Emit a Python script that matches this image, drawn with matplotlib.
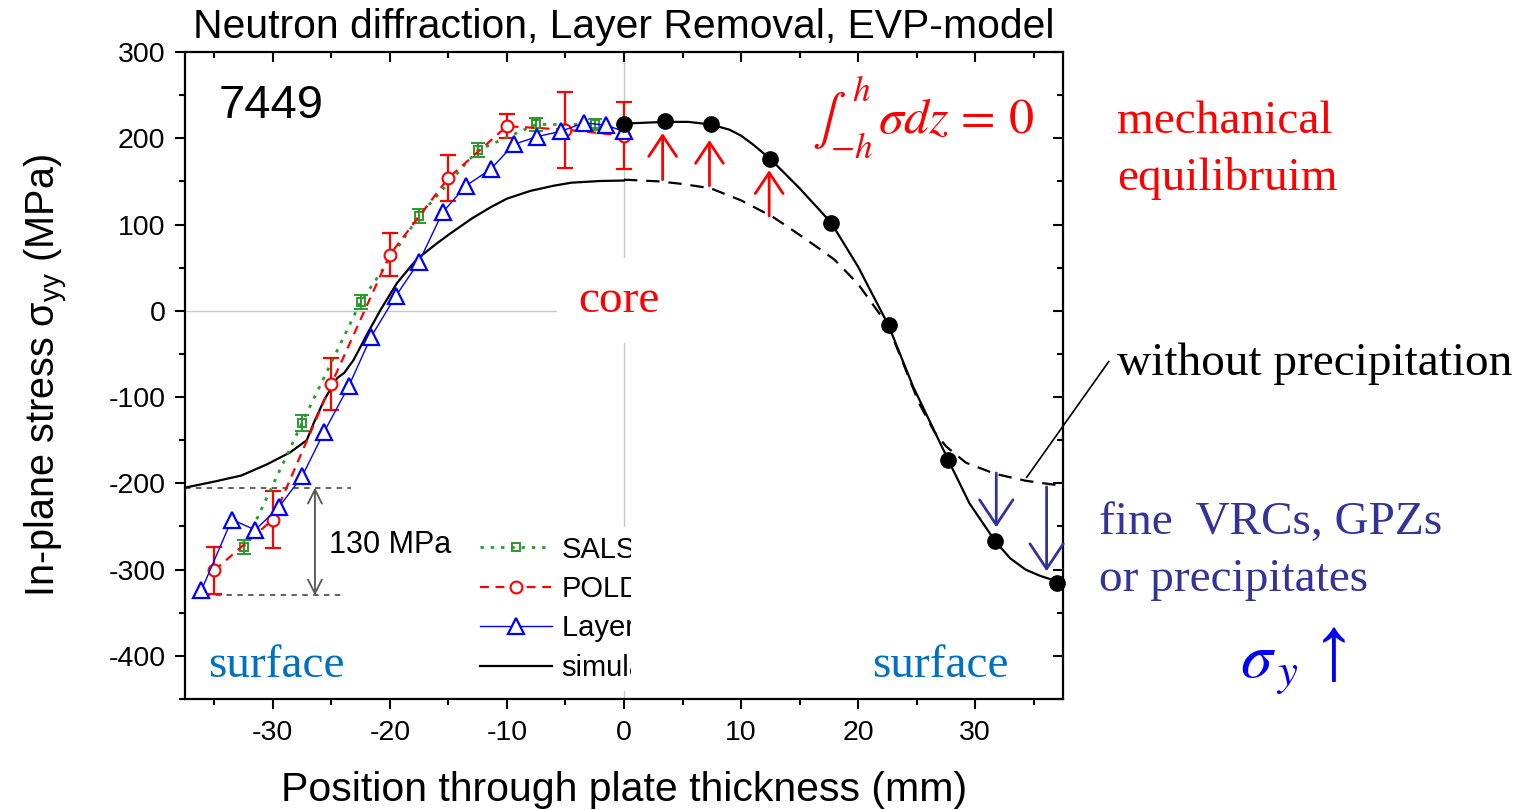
import matplotlib
matplotlib.use('Agg')
import matplotlib.pyplot as plt
from matplotlib.patches import Rectangle
from matplotlib.ticker import MultipleLocator

plt.rcParams['font.family'] = ['Liberation Sans', 'DejaVu Sans']
plt.rcParams['axes.unicode_minus'] = False

# ---------------- data ----------------
salsa_x = [-32.5, -27.5, -22.5, -17.5, -12.5, -7.5, -2.5]
salsa_y = [-274, -130, 10, 110, 186, 216, 216]
salsa_err = [8, 9, 8, 8, 8, 7, 6]

poldi_x = [-35, -30, -25, -20, -15, -10, -5, 0]
poldi_y = [-301, -242, -85, 65, 154, 214, 210, 203]
poldi_err = [27, 33, 30, 25, 27, 14, 44, 39]

layer_x = [-36.1, -33.5, -31.5, -29.5, -27.5, -25.6, -23.5, -21.6, -19.5, -17.5,
           -15.5, -13.5, -11.4, -9.4, -7.4, -5.4, -3.4, -1.5, 0]
layer_y = [-324, -242, -254, -228, -192, -140, -87, -30, 17, 57,
           114, 145, 164, 193, 202, 208, 218, 215, 208]

# EVP simulation, measured side (left half)
sim_left_x = [-37.5, -35, -32.7, -30.5, -28.5, -27.1, -26.5, -25.6, -24.5, -23.9,
              -23.1, -21.9, -20.8, -19.4, -18, -17.4, -16, -14.9, -13, -11.4,
              -10, -8, -6, -4.5, -2, 0]
sim_left_y = [-205, -198, -191, -178, -164, -150, -130, -103, -78, -72,
              -57, -26, 1, 32, 55, 63, 78, 89, 107, 120,
              130, 139, 145, 148.5, 150.5, 151]

# simulation without precipitation (right half, dashed)
noprec_x = [0, 3, 5, 7.4, 10, 12.7, 15, 17, 18, 20, 22.5, 23.5, 25.2, 26.5, 27.5,
            29.2, 31.7, 34.3, 37.5]
noprec_y = [152, 150, 147, 142, 128, 109, 88, 69, 59, 31, -16, -49, -107, -140, -157,
            -176, -189, -197, -203]

# simulation with precipitation (right half, solid) and its points
prec_x = [0, 3.5, 5.5, 7.4, 9, 10, 11, 12.5, 15, 17.7, 20, 22.6, 24.7, 27.7,
          29.5, 31.7, 33, 34.3, 35.5, 37.5]
prec_y = [217, 219, 219, 216, 210, 203, 193, 176, 142, 102, 51, -17, -88, -173,
          -223, -267, -287, -300, -307, -316]
dots_x = [0, 3.5, 7.4, 12.5, 17.7, 22.6, 27.7, 31.7, 37.0]
dots_y = [217, 220, 217, 176, 102, -17, -173, -267, -315]

# annotation arrows
up_x = [3.3, 7.3, 12.4]
up_tail = [152, 145, 110]
up_head = [206, 198, 163]
down_x = [31.8, 36.1]
down_tail = [-188, -204]
down_head = [-251, -302]

levels_130 = [-205, -330]
pointer_x = [34.4, 41.4]
pointer_y = [-193, -59]

legend_labels = ['SALSA', 'POLDI', 'Layer Removal', 'simulation']

# ---------------- figure ----------------
W, H = 1526, 810
fig = plt.figure(figsize=(W / 100, H / 100), dpi=100)
rect = [185 / W, 1 - 699 / H, 878 / W, 647 / H]
ax = fig.add_axes(rect)
ax.set_xlim(-37.5, 37.5)
ax.set_ylim(-450, 300)

ax.xaxis.set_major_locator(MultipleLocator(10))
ax.xaxis.set_minor_locator(MultipleLocator(5))
ax.yaxis.set_major_locator(MultipleLocator(100))
ax.yaxis.set_minor_locator(MultipleLocator(50))
ax.tick_params(which='both', direction='out', top=False, right=False,
               labelsize=20.5, width=1.5)
ax.tick_params(axis='x', pad=8)
ax.tick_params(axis='y', pad=7)
ax.tick_params(which='major', length=7)
ax.tick_params(which='minor', length=4)
for s in ax.spines.values():
    s.set_linewidth(1.6)

serif = ['Liberation Serif', 'DejaVu Serif']
RED = '#ff0000'
GREEN = '#2a9a2a'
BLUE = '#0000ff'
SURF = '#0070c0'
NAVY = '#333399'

# reference lines
ax.axhline(0, color='#c8c8c8', lw=1, zorder=1.0)
ax.axvline(0, color='#c8c8c8', lw=1, zorder=1.0)

# data series
ax.errorbar(salsa_x, salsa_y, yerr=salsa_err, fmt='none', ecolor=GREEN,
            elinewidth=1.4, capsize=5, capthick=1.4, zorder=3)
l_salsa, = ax.plot(salsa_x, salsa_y, ls=(0, (1.2, 2.5)), lw=2, color=GREEN,
                   marker='s', ms=6, mfc='none', mec=GREEN, mew=1.4, zorder=3.2)
ax.errorbar(poldi_x, poldi_y, yerr=poldi_err, fmt='none', ecolor=RED,
            elinewidth=1.6, capsize=6, capthick=1.6, zorder=3)
l_poldi, = ax.plot(poldi_x, poldi_y, ls=(0, (4, 3)), lw=1.6, color=RED,
                   marker='o', ms=8.5, mfc='white', mec=RED, mew=1.5, zorder=3.3)
l_layer, = ax.plot(layer_x, layer_y, ls='-', lw=1, color=BLUE,
                   marker='^', ms=11, mfc='white', mec=BLUE, mew=1.6, zorder=3.4)
l_sim, = ax.plot(sim_left_x, sim_left_y, color='black', lw=1.6, zorder=3.1)

ax.plot(noprec_x, noprec_y, color='black', lw=1.6, ls=(0, (6, 4)), zorder=4)
ax.plot(prec_x, prec_y, color='black', lw=1.6, zorder=4)
ax.plot(dots_x, dots_y, 'o', color='black', ms=11, zorder=6, clip_on=False)

# legend (its right part is masked, as in the original slide)
leg = ax.legend([l_salsa, l_poldi, l_layer, l_sim], legend_labels,
                loc='upper left', bbox_to_anchor=(0.3257, 0.266),
                fontsize=21, frameon=True, facecolor='white', edgecolor='none',
                framealpha=1, fancybox=False, borderpad=0.3, borderaxespad=0,
                handlelength=2.47, handletextpad=0.34, labelspacing=0.39, numpoints=1)
leg.set_zorder(1.2)
ax.add_patch(Rectangle((0.6, -450), 36.9, 750, facecolor='white',
                       edgecolor='none', zorder=1.4))

# 130 MPa marker
ax.hlines(levels_130[0], -37.5, -23.3, colors='#555555', lw=1.3, ls=(0, (3, 3)), zorder=2)
ax.hlines(levels_130[1], -36.7, -24.2, colors='#555555', lw=1.3, ls=(0, (3, 3)), zorder=2)
ax.annotate('', xy=(-26.4, levels_130[1]), xytext=(-26.4, levels_130[0]),
            arrowprops=dict(arrowstyle='<->,head_length=0.5,head_width=0.25',
                            color='#555555', lw=1.3, shrinkA=0, shrinkB=0,
                            mutation_scale=20), zorder=2)
ax.text(-25.2, -271, '130 MPa', fontsize=22, va='center', ha='left')
ax.text(-34.6, 223, '7449', fontsize=34, va='baseline', ha='left')

# red arrows
for x, y0, y1 in zip(up_x, up_tail, up_head):
    ax.annotate('', xy=(x, y1), xytext=(x, y0),
                arrowprops=dict(arrowstyle='->,head_length=0.75,head_width=0.5',
                                color=RED, lw=2, shrinkA=0, shrinkB=0,
                                mutation_scale=20), zorder=5)
# blue arrows
for x, y0, y1 in zip(down_x, down_tail, down_head):
    ax.annotate('', xy=(x, y1), xytext=(x, y0),
                arrowprops=dict(arrowstyle='->,head_length=0.9,head_width=0.6',
                                color=NAVY, lw=2, shrinkA=0, shrinkB=0,
                                mutation_scale=20), zorder=5)

ax.plot(pointer_x, pointer_y, color='black', lw=1.2, clip_on=False, zorder=5)

# texts
ax.text(-3.9, -1, 'core', fontsize=34, family=serif, color=RED, va='baseline',
        bbox=dict(facecolor='white', edgecolor='none', boxstyle='square,pad=0.45'),
        zorder=1.45)
ax.text(-35.5, -424, 'surface', fontsize=34, family=serif, color=SURF, va='baseline')
ax.text(21.2, -424, 'surface', fontsize=34, family=serif, color=SURF, va='baseline')
ax.text(16.1, 207, r'$\int_{-h}^{\,h}\,\sigma dz\,=\,0$', fontsize=36, color=RED,
        math_fontfamily='stix', va='baseline')
ax.text(42.1, 206, 'mechanical', fontsize=34, family=serif, color=RED, va='baseline')
ax.text(42.1, 140, 'equilibruim', fontsize=34, family=serif, color=RED, va='baseline')
ax.text(42.1, -74, 'without precipitation', fontsize=34, family=serif,
        color='black', va='baseline')
ax.text(40.6, -259, 'fine  VRCs, GPZs', fontsize=34, family=serif, color=NAVY,
        va='baseline')
ax.text(40.6, -325, 'or precipitates', fontsize=34, family=serif, color=NAVY,
        va='baseline')
ax.text(52.6, -425, r'$\sigma_{\,y}$', fontsize=46, color=BLUE, math_fontfamily='stix',
        va='baseline')
ax.text(58.7, -427, '\u2191', fontsize=66, color=BLUE,
        family=['Liberation Serif', 'DejaVu Sans'], va='baseline')

ax.set_title('Neutron diffraction, Layer Removal, EVP-model', fontsize=29.4, pad=10)
ax.set_xlabel('Position through plate thickness (mm)', fontsize=29.5, labelpad=18)
ax.set_ylabel(r'In-plane stress $\mathregular{\sigma_{yy}}$ (MPa)', fontsize=28.5,
              labelpad=28)

# mirrored inward ticks on top and right
ov = fig.add_axes(rect, facecolor='none', label='overlay')
ov.set_xlim(ax.get_xlim())
ov.set_ylim(ax.get_ylim())
ov.xaxis.set_major_locator(MultipleLocator(10))
ov.xaxis.set_minor_locator(MultipleLocator(5))
ov.yaxis.set_major_locator(MultipleLocator(100))
ov.yaxis.set_minor_locator(MultipleLocator(50))
ov.tick_params(which='both', direction='in', bottom=False, left=False, top=True,
               right=True, labelbottom=False, labelleft=False, width=1.5)
ov.tick_params(which='major', length=7)
ov.tick_params(which='minor', length=4)
for s in ov.spines.values():
    s.set_visible(False)

fig.savefig('out.png', dpi=100)
